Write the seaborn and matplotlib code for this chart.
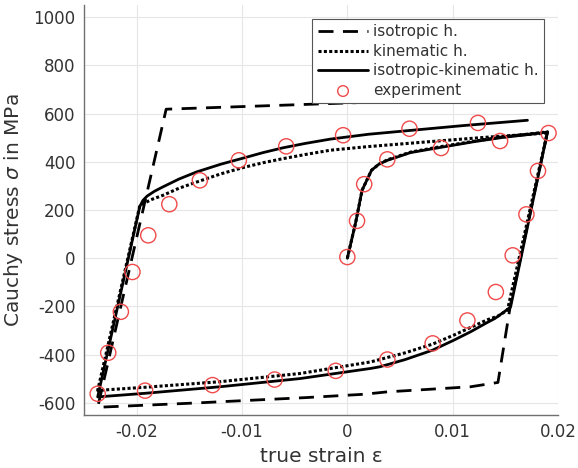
import numpy as np
import pandas as pd
import matplotlib
matplotlib.use("Agg")
import matplotlib.pyplot as plt
import seaborn as sns

# isotropic hardening model (dashed)
iso_strain = [0.0190, 0.0155, 0.0143, 0.0117, 0.0038, 0.0016, -0.0040, -0.0111,
              -0.0143, -0.0237, -0.0172, -0.0038, 0.0173]
iso_stress = [523, -190, -515, -533, -554, -564, -578, -593,
              -600, -618, 618, 638, 670]

# kinematic hardening model (dotted)
kin_strain = [0.0, 0.0008, 0.0014, 0.0023, 0.0030, 0.0038, 0.0060, 0.0089, 0.0120,
              0.0146, 0.0170, 0.0190,
              0.0152, 0.0143, 0.0133, 0.0117, 0.0101, 0.0081, 0.0055, 0.0022,
              -0.0045, -0.0121, -0.0192, -0.0237,
              -0.0197, -0.0194, -0.0185, -0.0175, -0.0160, -0.0143, -0.0120, -0.0099,
              -0.0080, -0.0061, -0.0040, -0.0016, 0.0020, 0.0060, 0.0100, 0.0136, 0.0190]
kin_stress = [0, 150, 282, 365, 390, 408, 440, 463, 485,
              502, 514, 524,
              -215, -240, -255, -287, -319, -356, -392, -430,
              -478, -512, -535, -548,
              218, 226, 245, 261, 290, 316, 350, 376,
              396, 413, 430, 448, 463, 477, 491, 503, 519]

# isotropic-kinematic hardening model (solid)
ik_strain = [0.0, 0.0008, 0.0014, 0.0023, 0.0030, 0.0038, 0.0060, 0.0089, 0.0120,
             0.0146, 0.0170, 0.0190,
             0.0155, 0.0149, 0.0140, 0.0133, 0.0117, 0.0101, 0.0081, 0.0055,
             0.0031, 0.0022, -0.0045, -0.0121, -0.0192, -0.0237,
             -0.0197, -0.0194, -0.0190, -0.0183, -0.0175, -0.0160, -0.0143, -0.0120,
             -0.0099, -0.0080, -0.0061, -0.0040, -0.0016, 0.0020, 0.0060, 0.0110, 0.0171]
ik_stress = [0, 150, 282, 365, 390, 406, 438, 460, 483,
             500, 512, 523,
             -202, -222, -250, -266, -305, -340, -381, -420,
             -450, -457, -499, -533, -560, -575,
             215, 240, 258, 278, 296, 328, 358, 390,
             415, 438, 458, 476, 494, 514, 530, 550, 572]

# experiment (open circles)
exp_strain = [0.0, 0.00092, 0.0016, 0.0038, 0.0089, 0.0145, 0.0191, 0.0181, 0.0170,
              0.0157, 0.0141, 0.0114, 0.0081, 0.0038, -0.0011, -0.0069, -0.0128,
              -0.0192, -0.0237, -0.0227, -0.0215, -0.0204, -0.0189, -0.0169, -0.0140,
              -0.0103, -0.0058, -0.0004, 0.0059, 0.0124]
exp_stress = [5, 155, 307, 410, 457, 486, 519, 362, 182,
              12, -140, -258, -353, -420, -467, -503, -526,
              -549, -562, -392, -222, -57, 95, 224, 323,
              406, 464, 510, 537, 561]

x_ticks = [-0.02, -0.01, 0, 0.01, 0.02]
x_ticklabels = ["-0.02", "-0.01", "0", "0.01", "0.02"]
y_ticks = [-600, -400, -200, 0, 200, 400, 600, 800, 1000]

sns.set_style("white")
plt.rcParams['font.family'] = ['DejaVu Sans']
plt.rcParams['mathtext.fontset'] = 'dejavusans'
plt.rcParams['axes.unicode_minus'] = False

fig = plt.figure(figsize=(5.78, 4.68), dpi=100)
ax = fig.add_axes([84 / 578, 1 - 415 / 468, 474 / 578, 410 / 468])

iso = pd.DataFrame({'strain': iso_strain, 'stress': iso_stress})
kin = pd.DataFrame({'strain': kin_strain, 'stress': kin_stress})
ik = pd.DataFrame({'strain': ik_strain, 'stress': ik_stress})
exp = pd.DataFrame({'strain': exp_strain, 'stress': exp_stress})

sns.lineplot(data=iso, x='strain', y='stress', sort=False, estimator=None, ax=ax,
             color='black', lw=2.0, linestyle=(0, (5.4, 3.4)), label='isotropic h.')
sns.lineplot(data=kin, x='strain', y='stress', sort=False, estimator=None, ax=ax,
             color='black', lw=2.2, linestyle=(0, (1, 0.75)), label='kinematic h.')
sns.lineplot(data=ik, x='strain', y='stress', sort=False, estimator=None, ax=ax,
             color='black', lw=2.0, label='isotropic-kinematic h.')
sns.scatterplot(data=exp, x='strain', y='stress', ax=ax, marker='o', s=120,
                facecolor='none', edgecolor='#f04a4a', linewidth=1.0,
                label='experiment', zorder=5)

ax.set_xlim(-0.025, 0.02)
ax.set_ylim(-650, 1050)
ax.set_xticks(x_ticks)
ax.set_xticklabels(x_ticklabels)
ax.set_yticks(y_ticks)
ax.grid(True, color='#e6e6e6', lw=0.8)
ax.set_axisbelow(True)
for side in ['top', 'right']:
    ax.spines[side].set_visible(False)
for side in ['left', 'bottom']:
    ax.spines[side].set_color('#707070')
    ax.spines[side].set_linewidth(1.0)
ax.tick_params(direction='in', length=4, width=0.8, color='#707070',
               labelsize=12, labelcolor='#333333', pad=6)

ax.set_xlabel('true strain ε', fontsize=14.5, color='#333333', labelpad=4)
ax.set_ylabel(r'Cauchy stress $\sigma$ in MPa', fontsize=14.5, color='#333333', labelpad=6)

leg = ax.legend(loc='upper right', bbox_to_anchor=(0.97, 0.966), borderaxespad=0,
                fontsize=11, handlelength=3.3, handletextpad=0.3, labelspacing=0.3,
                borderpad=0.35, fancybox=False, framealpha=1, edgecolor='#555555',
                markerscale=0.7)
leg.set_zorder(10)
leg.get_frame().set_linewidth(0.8)
for t in leg.get_texts():
    t.set_color('#333333')

fig.savefig('out.png', dpi=100)
